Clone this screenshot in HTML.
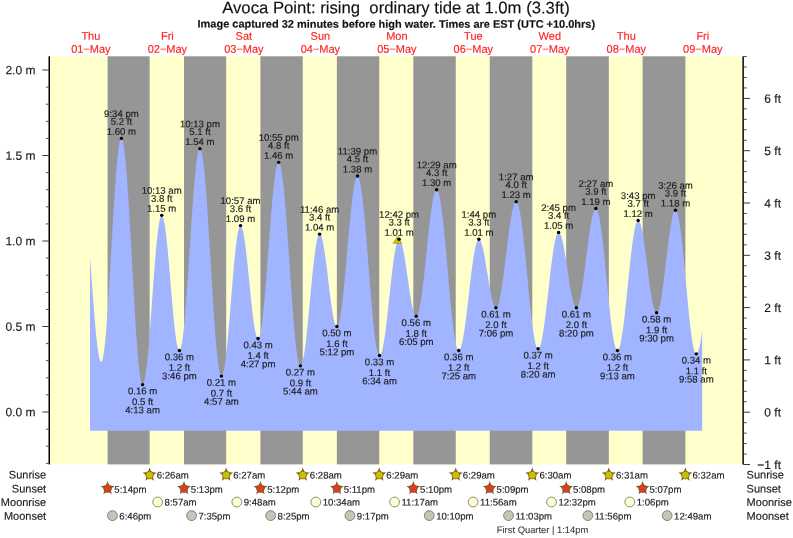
<!DOCTYPE html>
<html lang="en"><head><meta charset="utf-8"><title>Avoca Point tide times</title>
<style>
html,body{margin:0;padding:0;background:#fff;}
body{width:793px;height:538px;overflow:hidden;}
svg{display:block;font-family:"Liberation Sans",Arial,Helvetica,sans-serif;}
text{stroke-width:0.15px;paint-order:stroke;text-rendering:geometricPrecision;}
.al,.ar,.tl,.rl,.rt{stroke:#1a1a1a;}
.t,.s{stroke:#111;stroke-width:0.15px;}
.d{stroke:#ff2020;}
.fq{stroke:#3a3a3a;stroke-width:0.1px;}
.t{font-size:16.7px;fill:#111;text-anchor:middle;white-space:pre;}
.s{font-size:10.97px;font-weight:bold;fill:#111;text-anchor:middle;}
.d{font-size:11px;fill:#ff2020;text-anchor:middle;}
.al{font-size:12px;fill:#1a1a1a;text-anchor:end;}
.ar{font-size:12px;fill:#1a1a1a;text-anchor:end;}
.tl{font-size:9.6px;fill:#1a1a1a;text-anchor:middle;}
.rl{font-size:11px;fill:#1a1a1a;}
.rt{font-size:9.6px;fill:#1a1a1a;}
.fq{font-size:9.4px;fill:#3a3a3a;}
</style></head><body>
<svg width="793" height="538" viewBox="0 0 793 538">
<rect width="793" height="538" fill="#fff"/>
<text class="t" transform="translate(395.95,13.30) rotate(0.03)" xml:space="preserve">Avoca Point: rising  ordinary tide at 1.0m (3.3ft)</text>
<text class="s" transform="translate(396.30,27.70) rotate(0.03)">Image captured 32 minutes before high water. Times are EST (UTC +10.0hrs)</text>
<rect x="50.0" y="56.3" width="692.30" height="408.10" fill="#ffffcc"/>
<rect x="107.57" y="56.3" width="42.07" height="408.10" fill="#969696"/>
<rect x="184.01" y="56.3" width="42.17" height="408.10" fill="#969696"/>
<rect x="260.44" y="56.3" width="42.28" height="408.10" fill="#969696"/>
<rect x="336.88" y="56.3" width="42.39" height="408.10" fill="#969696"/>
<rect x="413.31" y="56.3" width="42.44" height="408.10" fill="#969696"/>
<rect x="489.75" y="56.3" width="42.55" height="408.10" fill="#969696"/>
<rect x="566.18" y="56.3" width="42.65" height="408.10" fill="#969696"/>
<rect x="642.62" y="56.3" width="42.76" height="408.10" fill="#969696"/>
<path d="M90.00,430.80L90.00,257.04L90.44,262.86L90.87,268.76L91.31,274.71L91.75,280.68L92.19,286.64L92.62,292.56L93.06,298.40L93.50,304.14L93.94,309.75L94.37,315.20L94.81,320.46L95.25,325.51L95.68,330.31L96.12,334.85L96.56,339.10L97.00,343.04L97.43,346.65L97.87,349.92L98.31,352.81L98.75,355.33L99.18,357.45L99.62,359.17L100.06,360.47L100.49,361.36L100.93,361.82L101.37,361.85L101.81,361.38L102.24,360.39L102.68,358.90L103.12,356.90L103.56,354.40L103.99,351.42L104.43,347.98L104.87,344.08L105.31,339.75L105.74,335.01L106.18,329.87L106.62,324.36L107.05,318.51L107.49,312.34L107.93,305.89L108.37,299.17L108.80,292.23L109.24,285.10L109.68,277.81L110.12,270.38L110.55,262.86L110.99,255.29L111.43,247.69L111.86,240.10L112.30,232.56L112.74,225.10L113.18,217.75L113.61,210.56L114.05,203.55L114.49,196.75L114.93,190.20L115.36,183.93L115.80,177.96L116.24,172.33L116.67,167.06L117.11,162.17L117.55,157.69L117.99,153.64L118.42,150.03L118.86,146.89L119.30,144.23L119.74,142.05L120.17,140.37L120.61,139.21L121.05,138.55L121.48,138.41L121.92,138.79L122.36,139.69L122.80,141.09L123.23,143.00L123.67,145.41L124.11,148.31L124.55,151.68L124.98,155.52L125.42,159.80L125.86,164.50L126.29,169.62L126.73,175.12L127.17,180.98L127.61,187.18L128.04,193.69L128.48,200.49L128.92,207.55L129.36,214.83L129.79,222.31L130.23,229.95L130.67,237.72L131.10,245.60L131.54,253.54L131.98,261.51L132.42,269.49L132.85,277.43L133.29,285.31L133.73,293.08L134.17,300.72L134.60,308.20L135.04,315.48L135.48,322.54L135.92,329.34L136.35,335.85L136.79,342.05L137.23,347.91L137.66,353.42L138.10,358.53L138.54,363.24L138.98,367.52L139.41,371.35L139.85,374.72L140.29,377.62L140.73,380.03L141.16,381.95L141.60,383.35L142.04,384.25L142.47,384.63L142.91,384.51L143.35,383.96L143.79,382.97L144.22,381.56L144.66,379.73L145.10,377.48L145.54,374.83L145.97,371.80L146.41,368.40L146.85,364.65L147.28,360.56L147.72,356.16L148.16,351.47L148.60,346.51L149.03,341.31L149.47,335.90L149.91,330.31L150.35,324.56L150.78,318.68L151.22,312.71L151.66,306.67L152.09,300.59L152.53,294.51L152.97,288.47L153.41,282.48L153.84,276.58L154.28,270.80L154.72,265.17L155.16,259.72L155.59,254.48L156.03,249.48L156.47,244.73L156.90,240.27L157.34,236.12L157.78,232.30L158.22,228.83L158.65,225.72L159.09,223.00L159.53,220.67L159.97,218.76L160.40,217.26L160.84,216.19L161.28,215.55L161.71,215.35L162.15,215.57L162.59,216.19L163.03,217.22L163.46,218.64L163.90,220.45L164.34,222.64L164.78,225.19L165.21,228.09L165.65,231.32L166.09,234.86L166.53,238.69L166.96,242.78L167.40,247.12L167.84,251.67L168.27,256.41L168.71,261.31L169.15,266.34L169.59,271.48L170.02,276.68L170.46,281.91L170.90,287.16L171.34,292.37L171.77,297.53L172.21,302.61L172.65,307.56L173.08,312.36L173.52,316.99L173.96,321.41L174.40,325.60L174.83,329.53L175.27,333.18L175.71,336.53L176.15,339.55L176.58,342.24L177.02,344.56L177.46,346.51L177.89,348.08L178.33,349.26L178.77,350.03L179.21,350.41L179.64,350.36L180.08,349.87L180.52,348.93L180.96,347.55L181.39,345.73L181.83,343.49L182.27,340.82L182.70,337.74L183.14,334.27L183.58,330.43L184.02,326.22L184.45,321.67L184.89,316.79L185.33,311.62L185.77,306.17L186.20,300.47L186.64,294.54L187.08,288.41L187.51,282.10L187.95,275.65L188.39,269.09L188.83,262.43L189.26,255.72L189.70,248.98L190.14,242.25L190.58,235.54L191.01,228.90L191.45,222.35L191.89,215.93L192.32,209.65L192.76,203.55L193.20,197.66L193.64,191.99L194.07,186.59L194.51,181.47L194.95,176.65L195.39,172.15L195.82,168.00L196.26,164.22L196.70,160.81L197.14,157.81L197.57,155.21L198.01,153.03L198.45,151.28L198.88,149.98L199.32,149.11L199.76,148.70L200.20,148.74L200.63,149.24L201.07,150.21L201.51,151.63L201.95,153.51L202.38,155.84L202.82,158.60L203.26,161.79L203.69,165.39L204.13,169.38L204.57,173.76L205.01,178.50L205.44,183.58L205.88,188.99L206.32,194.70L206.76,200.68L207.19,206.92L207.63,213.39L208.07,220.05L208.50,226.89L208.94,233.88L209.38,240.98L209.82,248.17L210.25,255.41L210.69,262.69L211.13,269.96L211.57,277.20L212.00,284.39L212.44,291.48L212.88,298.45L213.31,305.28L213.75,311.93L214.19,318.37L214.63,324.59L215.06,330.55L215.50,336.23L215.94,341.61L216.38,346.67L216.81,351.38L217.25,355.73L217.69,359.69L218.12,363.25L218.56,366.40L219.00,369.13L219.44,371.42L219.87,373.26L220.31,374.64L220.75,375.57L221.19,376.03L221.62,376.04L222.06,375.65L222.50,374.87L222.93,373.72L223.37,372.18L223.81,370.28L224.25,368.02L224.68,365.41L225.12,362.47L225.56,359.21L226.00,355.66L226.43,351.81L226.87,347.71L227.31,343.36L227.75,338.80L228.18,334.04L228.62,329.10L229.06,324.03L229.49,318.83L229.93,313.54L230.37,308.18L230.81,302.79L231.24,297.38L231.68,292.00L232.12,286.66L232.56,281.39L232.99,276.22L233.43,271.18L233.87,266.30L234.30,261.59L234.74,257.08L235.18,252.80L235.62,248.77L236.05,245.01L236.49,241.53L236.93,238.36L237.37,235.51L237.80,233.00L238.24,230.84L238.68,229.05L239.11,227.62L239.55,226.57L239.99,225.90L240.43,225.62L240.86,225.71L241.30,226.16L241.74,226.94L242.18,228.06L242.61,229.52L243.05,231.30L243.49,233.39L243.92,235.77L244.36,238.44L244.80,241.38L245.24,244.57L245.67,247.99L246.11,251.62L246.55,255.43L246.99,259.41L247.42,263.53L247.86,267.76L248.30,272.08L248.73,276.45L249.17,280.87L249.61,285.29L250.05,289.69L250.48,294.04L250.92,298.32L251.36,302.50L251.80,306.56L252.23,310.46L252.67,314.19L253.11,317.72L253.54,321.04L253.98,324.11L254.42,326.93L254.86,329.47L255.29,331.71L255.73,333.66L256.17,335.28L256.61,336.58L257.04,337.55L257.48,338.17L257.92,338.45L258.36,338.38L258.79,337.91L259.23,337.06L259.67,335.82L260.10,334.20L260.54,332.21L260.98,329.85L261.42,327.14L261.85,324.10L262.29,320.72L262.73,317.03L263.17,313.05L263.60,308.79L264.04,304.27L264.48,299.50L264.91,294.53L265.35,289.35L265.79,284.00L266.23,278.51L266.66,272.89L267.10,267.16L267.54,261.37L267.98,255.52L268.41,249.66L268.85,243.79L269.29,237.96L269.72,232.18L270.16,226.48L270.60,220.89L271.04,215.43L271.47,210.12L271.91,204.99L272.35,200.07L272.79,195.37L273.22,190.91L273.66,186.72L274.10,182.81L274.53,179.20L274.97,175.90L275.41,172.94L275.85,170.32L276.28,168.06L276.72,166.16L277.16,164.64L277.60,163.50L278.03,162.74L278.47,162.38L278.91,162.40L279.34,162.84L279.78,163.67L280.22,164.91L280.66,166.55L281.09,168.57L281.53,170.98L281.97,173.75L282.41,176.89L282.84,180.38L283.28,184.20L283.72,188.35L284.15,192.79L284.59,197.52L285.03,202.52L285.47,207.76L285.90,213.23L286.34,218.90L286.78,224.75L287.22,230.75L287.65,236.90L288.09,243.15L288.53,249.48L288.97,255.87L289.40,262.30L289.84,268.73L290.28,275.14L290.71,281.51L291.15,287.81L291.59,294.02L292.03,300.10L292.46,306.04L292.90,311.82L293.34,317.40L293.78,322.77L294.21,327.90L294.65,332.78L295.09,337.39L295.52,341.70L295.96,345.70L296.40,349.38L296.84,352.71L297.27,355.70L297.71,358.31L298.15,360.55L298.59,362.40L299.02,363.86L299.46,364.92L299.90,365.58L300.33,365.83L300.77,365.70L301.21,365.24L301.65,364.44L302.08,363.31L302.52,361.87L302.96,360.10L303.40,358.03L303.83,355.66L304.27,353.01L304.71,350.09L305.14,346.92L305.58,343.50L306.02,339.86L306.46,336.02L306.89,331.99L307.33,327.81L307.77,323.47L308.21,319.02L308.64,314.48L309.08,309.85L309.52,305.18L309.95,300.48L310.39,295.78L310.83,291.10L311.27,286.47L311.70,281.91L312.14,277.43L312.58,273.08L313.02,268.86L313.45,264.79L313.89,260.91L314.33,257.23L314.76,253.77L315.20,250.54L315.64,247.56L316.08,244.85L316.51,242.43L316.95,240.29L317.39,238.47L317.83,236.95L318.26,235.76L318.70,234.89L319.14,234.36L319.58,234.16L320.01,234.28L320.45,234.69L320.89,235.38L321.32,236.36L321.76,237.62L322.20,239.14L322.64,240.93L323.07,242.96L323.51,245.22L323.95,247.71L324.39,250.40L324.82,253.28L325.26,256.33L325.70,259.53L326.13,262.87L326.57,266.31L327.01,269.84L327.45,273.43L327.88,277.07L328.32,280.73L328.76,284.39L329.20,288.02L329.63,291.61L330.07,295.12L330.51,298.54L330.94,301.85L331.38,305.02L331.82,308.03L332.26,310.87L332.69,313.52L333.13,315.96L333.57,318.17L334.01,320.15L334.44,321.88L334.88,323.34L335.32,324.54L335.75,325.45L336.19,326.09L336.63,326.43L337.07,326.48L337.50,326.21L337.94,325.60L338.38,324.67L338.82,323.40L339.25,321.81L339.69,319.91L340.13,317.70L340.56,315.19L341.00,312.40L341.44,309.33L341.88,306.01L342.31,302.44L342.75,298.64L343.19,294.63L343.63,290.43L344.06,286.05L344.50,281.52L344.94,276.85L345.37,272.07L345.81,267.19L346.25,262.25L346.69,257.25L347.12,252.23L347.56,247.21L348.00,242.20L348.44,237.23L348.87,232.32L349.31,227.50L349.75,222.79L350.19,218.20L350.62,213.76L351.06,209.49L351.50,205.40L351.93,201.52L352.37,197.86L352.81,194.44L353.25,191.28L353.68,188.38L354.12,185.76L354.56,183.43L355.00,181.41L355.43,179.70L355.87,178.31L356.31,177.24L356.74,176.50L357.18,176.10L357.62,176.04L358.06,176.32L358.49,176.94L358.93,177.91L359.37,179.23L359.81,180.88L360.24,182.86L360.68,185.16L361.12,187.77L361.55,190.69L361.99,193.90L362.43,197.39L362.87,201.14L363.30,205.14L363.74,209.38L364.18,213.84L364.62,218.50L365.05,223.35L365.49,228.36L365.93,233.51L366.36,238.79L366.80,244.18L367.24,249.65L367.68,255.18L368.11,260.75L368.55,266.34L368.99,271.93L369.43,277.50L369.86,283.02L370.30,288.47L370.74,293.84L371.17,299.10L371.61,304.22L372.05,309.20L372.49,314.01L372.92,318.63L373.36,323.05L373.80,327.25L374.24,331.20L374.67,334.91L375.11,338.34L375.55,341.49L375.98,344.35L376.42,346.91L376.86,349.15L377.30,351.06L377.73,352.65L378.17,353.89L378.61,354.80L379.05,355.36L379.48,355.57L379.92,355.46L380.36,355.06L380.80,354.37L381.23,353.41L381.67,352.17L382.11,350.65L382.54,348.88L382.98,346.85L383.42,344.58L383.86,342.07L384.29,339.35L384.73,336.42L385.17,333.29L385.61,329.99L386.04,326.53L386.48,322.92L386.92,319.19L387.35,315.35L387.79,311.42L388.23,307.42L388.67,303.37L389.10,299.30L389.54,295.21L389.98,291.14L390.42,287.10L390.85,283.10L391.29,279.18L391.73,275.35L392.16,271.63L392.60,268.03L393.04,264.58L393.48,261.30L393.91,258.19L394.35,255.27L394.79,252.56L395.23,250.08L395.66,247.83L396.10,245.82L396.54,244.07L396.97,242.58L397.41,241.36L397.85,240.42L398.29,239.76L398.72,239.38L399.16,239.29L399.60,239.47L400.04,239.88L400.47,240.54L400.91,241.44L401.35,242.57L401.78,243.92L402.22,245.50L402.66,247.28L403.10,249.25L403.53,251.41L403.97,253.73L404.41,256.21L404.85,258.83L405.28,261.57L405.72,264.42L406.16,267.35L406.59,270.34L407.03,273.38L407.47,276.46L407.91,279.54L408.34,282.60L408.78,285.64L409.22,288.63L409.66,291.55L410.09,294.38L410.53,297.10L410.97,299.70L411.41,302.16L411.84,304.46L412.28,306.59L412.72,308.53L413.15,310.28L413.59,311.82L414.03,313.15L414.47,314.24L414.90,315.10L415.34,315.73L415.78,316.11L416.22,316.24L416.65,316.11L417.09,315.69L417.53,314.99L417.96,314.01L418.40,312.75L418.84,311.21L419.28,309.42L419.71,307.37L420.15,305.07L420.59,302.54L421.03,299.78L421.46,296.81L421.90,293.64L422.34,290.28L422.77,286.76L423.21,283.08L423.65,279.27L424.09,275.33L424.52,271.30L424.96,267.18L425.40,263.00L425.84,258.78L426.27,254.52L426.71,250.26L427.15,246.01L427.58,241.80L428.02,237.63L428.46,233.53L428.90,229.53L429.33,225.62L429.77,221.85L430.21,218.21L430.65,214.73L431.08,211.42L431.52,208.31L431.96,205.39L432.39,202.69L432.83,200.22L433.27,197.99L433.71,196.01L434.14,194.28L434.58,192.83L435.02,191.64L435.46,190.73L435.89,190.11L436.33,189.77L436.77,189.72L437.20,189.97L437.64,190.53L438.08,191.40L438.52,192.57L438.95,194.05L439.39,195.81L439.83,197.87L440.27,200.20L440.70,202.80L441.14,205.66L441.58,208.78L442.01,212.12L442.45,215.70L442.89,219.48L443.33,223.46L443.76,227.61L444.20,231.94L444.64,236.41L445.08,241.00L445.51,245.72L445.95,250.52L446.39,255.40L446.83,260.34L447.26,265.32L447.70,270.31L448.14,275.30L448.57,280.28L449.01,285.21L449.45,290.08L449.89,294.88L450.32,299.58L450.76,304.17L451.20,308.63L451.64,312.93L452.07,317.08L452.51,321.03L452.95,324.80L453.38,328.35L453.82,331.67L454.26,334.76L454.70,337.60L455.13,340.18L455.57,342.48L456.01,344.51L456.45,346.25L456.88,347.69L457.32,348.84L457.76,349.68L458.19,350.21L458.63,350.43L459.07,350.36L459.51,350.03L459.94,349.44L460.38,348.60L460.82,347.51L461.26,346.17L461.69,344.59L462.13,342.78L462.57,340.75L463.00,338.51L463.44,336.06L463.88,333.42L464.32,330.60L464.75,327.62L465.19,324.48L465.63,321.20L466.07,317.81L466.50,314.30L466.94,310.71L467.38,307.04L467.81,303.31L468.25,299.55L468.69,295.76L469.13,291.97L469.56,288.19L470.00,284.44L470.44,280.75L470.88,277.11L471.31,273.56L471.75,270.11L472.19,266.78L472.63,263.57L473.06,260.51L473.50,257.62L473.94,254.89L474.37,252.35L474.81,250.01L475.25,247.88L475.69,245.96L476.12,244.28L476.56,242.82L477.00,241.62L477.44,240.65L477.87,239.95L478.31,239.49L478.75,239.30L479.18,239.35L479.62,239.63L480.06,240.12L480.50,240.83L480.93,241.74L481.37,242.87L481.81,244.19L482.25,245.70L482.68,247.39L483.12,249.24L483.56,251.26L483.99,253.41L484.43,255.70L484.87,258.10L485.31,260.60L485.74,263.18L486.18,265.83L486.62,268.53L487.06,271.26L487.49,274.01L487.93,276.75L488.37,279.47L488.80,282.16L489.24,284.78L489.68,287.34L490.12,289.80L490.55,292.16L490.99,294.40L491.43,296.50L491.87,298.46L492.30,300.25L492.74,301.88L493.18,303.31L493.61,304.56L494.05,305.61L494.49,306.45L494.93,307.07L495.36,307.48L495.80,307.68L496.24,307.64L496.68,307.36L497.11,306.85L497.55,306.09L497.99,305.09L498.42,303.86L498.86,302.41L499.30,300.73L499.74,298.85L500.17,296.75L500.61,294.47L501.05,292.00L501.49,289.36L501.92,286.56L502.36,283.62L502.80,280.54L503.24,277.34L503.67,274.04L504.11,270.65L504.55,267.18L504.98,263.66L505.42,260.09L505.86,256.50L506.30,252.91L506.73,249.32L507.17,245.75L507.61,242.23L508.05,238.76L508.48,235.37L508.92,232.06L509.36,228.86L509.79,225.78L510.23,222.84L510.67,220.03L511.11,217.39L511.54,214.92L511.98,212.64L512.42,210.54L512.86,208.65L513.29,206.98L513.73,205.52L514.17,204.29L514.60,203.29L515.04,202.52L515.48,202.00L515.92,201.72L516.35,201.69L516.79,201.93L517.23,202.47L517.67,203.29L518.10,204.39L518.54,205.76L518.98,207.41L519.41,209.33L519.85,211.50L520.29,213.93L520.73,216.59L521.16,219.48L521.60,222.60L522.04,225.91L522.48,229.43L522.91,233.12L523.35,236.97L523.79,240.98L524.22,245.12L524.66,249.38L525.10,253.74L525.54,258.18L525.97,262.69L526.41,267.25L526.85,271.84L527.29,276.44L527.72,281.04L528.16,285.62L528.60,290.15L529.03,294.63L529.47,299.03L529.91,303.33L530.35,307.53L530.78,311.60L531.22,315.53L531.66,319.30L532.10,322.89L532.53,326.30L532.97,329.51L533.41,332.51L533.85,335.28L534.28,337.81L534.72,340.10L535.16,342.14L535.59,343.91L536.03,345.41L536.47,346.64L536.91,347.59L537.34,348.26L537.78,348.63L538.22,348.73L538.66,348.55L539.09,348.10L539.53,347.40L539.97,346.45L540.40,345.24L540.84,343.78L541.28,342.09L541.72,340.16L542.15,338.01L542.59,335.64L543.03,333.07L543.47,330.31L543.90,327.37L544.34,324.27L544.78,321.01L545.21,317.61L545.65,314.10L546.09,310.48L546.53,306.76L546.96,302.98L547.40,299.14L547.84,295.26L548.28,291.36L548.71,287.45L549.15,283.56L549.59,279.70L550.02,275.90L550.46,272.15L550.90,268.49L551.34,264.93L551.77,261.49L552.21,258.18L552.65,255.01L553.09,252.00L553.52,249.17L553.96,246.52L554.40,244.08L554.83,241.84L555.27,239.82L555.71,238.04L556.15,236.49L556.58,235.18L557.02,234.12L557.46,233.32L557.90,232.78L558.33,232.49L558.77,232.47L559.21,232.68L559.64,233.11L560.08,233.75L560.52,234.62L560.96,235.70L561.39,236.98L561.83,238.46L562.27,240.12L562.71,241.97L563.14,243.98L563.58,246.15L564.02,248.46L564.46,250.90L564.89,253.45L565.33,256.11L565.77,258.84L566.20,261.65L566.64,264.50L567.08,267.39L567.52,270.29L567.95,273.19L568.39,276.07L568.83,278.92L569.27,281.71L569.70,284.44L570.14,287.07L570.58,289.61L571.01,292.03L571.45,294.32L571.89,296.47L572.33,298.46L572.76,300.28L573.20,301.92L573.64,303.37L574.08,304.62L574.51,305.66L574.95,306.50L575.39,307.11L575.82,307.51L576.26,307.68L576.70,307.62L577.14,307.32L577.57,306.78L578.01,305.99L578.45,304.96L578.89,303.70L579.32,302.22L579.76,300.51L580.20,298.60L580.63,296.48L581.07,294.18L581.51,291.69L581.95,289.04L582.38,286.24L582.82,283.29L583.26,280.22L583.70,277.04L584.13,273.77L584.57,270.41L585.01,267.00L585.44,263.54L585.88,260.06L586.32,256.57L586.76,253.08L587.19,249.62L587.63,246.20L588.07,242.84L588.51,239.55L588.94,236.36L589.38,233.28L589.82,230.32L590.25,227.49L590.69,224.82L591.13,222.31L591.57,219.99L592.00,217.85L592.44,215.91L592.88,214.18L593.32,212.67L593.75,211.38L594.19,210.32L594.63,209.51L595.07,208.93L595.50,208.60L595.94,208.51L596.38,208.70L596.81,209.17L597.25,209.93L597.69,210.97L598.13,212.29L598.56,213.89L599.00,215.74L599.44,217.86L599.88,220.23L600.31,222.83L600.75,225.67L601.19,228.72L601.62,231.99L602.06,235.44L602.50,239.07L602.94,242.87L603.37,246.81L603.81,250.89L604.25,255.08L604.69,259.37L605.12,263.75L605.56,268.18L606.00,272.67L606.43,277.18L606.87,281.70L607.31,286.21L607.75,290.69L608.18,295.13L608.62,299.50L609.06,303.80L609.50,307.99L609.93,312.07L610.37,316.02L610.81,319.82L611.24,323.45L611.68,326.91L612.12,330.17L612.56,333.23L612.99,336.07L613.43,338.68L613.87,341.05L614.31,343.17L614.74,345.03L615.18,346.63L615.62,347.95L616.05,349.00L616.49,349.77L616.93,350.24L617.37,350.44L617.80,350.34L618.24,349.96L618.68,349.30L619.12,348.35L619.55,347.13L619.99,345.64L620.43,343.88L620.86,341.87L621.30,339.61L621.74,337.11L622.18,334.38L622.61,331.44L623.05,328.29L623.49,324.96L623.93,321.46L624.36,317.79L624.80,313.99L625.24,310.05L625.68,306.01L626.11,301.88L626.55,297.68L626.99,293.43L627.42,289.13L627.86,284.83L628.30,280.52L628.74,276.24L629.17,272.00L629.61,267.82L630.05,263.71L630.49,259.70L630.92,255.80L631.36,252.04L631.80,248.42L632.23,244.96L632.67,241.68L633.11,238.60L633.55,235.72L633.98,233.06L634.42,230.62L634.86,228.43L635.30,226.50L635.73,224.82L636.17,223.40L636.61,222.26L637.04,221.40L637.48,220.82L637.92,220.52L638.36,220.51L638.79,220.75L639.23,221.25L639.67,222.01L640.11,223.01L640.54,224.25L640.98,225.73L641.42,227.44L641.85,229.36L642.29,231.49L642.73,233.82L643.17,236.32L643.60,239.00L644.04,241.83L644.48,244.80L644.92,247.89L645.35,251.08L645.79,254.36L646.23,257.71L646.66,261.11L647.10,264.54L647.54,267.98L647.98,271.41L648.41,274.82L648.85,278.18L649.29,281.47L649.73,284.69L650.16,287.80L650.60,290.80L651.04,293.66L651.47,296.38L651.91,298.93L652.35,301.29L652.79,303.47L653.22,305.44L653.66,307.20L654.10,308.73L654.54,310.03L654.97,311.09L655.41,311.90L655.85,312.45L656.29,312.76L656.72,312.81L657.16,312.59L657.60,312.10L658.03,311.34L658.47,310.33L658.91,309.05L659.35,307.52L659.78,305.75L660.22,303.75L660.66,301.53L661.10,299.09L661.53,296.45L661.97,293.63L662.41,290.65L662.84,287.50L663.28,284.23L663.72,280.83L664.16,277.33L664.59,273.74L665.03,270.09L665.47,266.40L665.91,262.68L666.34,258.95L666.78,255.24L667.22,251.56L667.65,247.94L668.09,244.38L668.53,240.92L668.97,237.56L669.40,234.33L669.84,231.24L670.28,228.32L670.72,225.57L671.15,223.01L671.59,220.65L672.03,218.51L672.46,216.59L672.90,214.91L673.34,213.48L673.78,212.30L674.21,211.38L674.65,210.72L675.09,210.34L675.53,210.22L675.96,210.40L676.40,210.89L676.84,211.69L677.27,212.79L677.71,214.20L678.15,215.90L678.59,217.89L679.02,220.16L679.46,222.69L679.90,225.49L680.34,228.53L680.77,231.81L681.21,235.30L681.65,239.00L682.08,242.88L682.52,246.94L682.96,251.14L683.40,255.48L683.83,259.94L684.27,264.50L684.71,269.13L685.15,273.81L685.58,278.53L686.02,283.27L686.46,288.00L686.90,292.71L687.33,297.37L687.77,301.96L688.21,306.47L688.64,310.87L689.08,315.14L689.52,319.27L689.96,323.24L690.39,327.03L690.83,330.62L691.27,334.00L691.71,337.16L692.14,340.07L692.58,342.74L693.02,345.14L693.45,347.26L693.89,349.10L694.33,350.65L694.77,351.90L695.20,352.85L695.64,353.49L696.08,353.81L696.52,353.83L696.95,353.57L697.39,353.04L697.83,352.23L698.26,351.16L698.70,349.83L699.14,348.24L699.58,346.40L700.01,344.32L700.45,342.01L700.89,339.47L701.33,336.73L701.76,333.78L702.20,330.65L702.20,430.80Z" fill="#a0b4ff"/>
<text class="d" transform="translate(90.89,39.70) rotate(0.03)">Thu</text><text class="d" transform="translate(90.89,52.80) rotate(0.03)">01−May</text>
<text class="d" transform="translate(167.38,39.70) rotate(0.03)">Fri</text><text class="d" transform="translate(167.38,52.80) rotate(0.03)">02−May</text>
<text class="d" transform="translate(243.87,39.70) rotate(0.03)">Sat</text><text class="d" transform="translate(243.87,52.80) rotate(0.03)">03−May</text>
<text class="d" transform="translate(320.36,39.70) rotate(0.03)">Sun</text><text class="d" transform="translate(320.36,52.80) rotate(0.03)">04−May</text>
<text class="d" transform="translate(396.85,39.70) rotate(0.03)">Mon</text><text class="d" transform="translate(396.85,52.80) rotate(0.03)">05−May</text>
<text class="d" transform="translate(473.33,39.70) rotate(0.03)">Tue</text><text class="d" transform="translate(473.33,52.80) rotate(0.03)">06−May</text>
<text class="d" transform="translate(549.82,39.70) rotate(0.03)">Wed</text><text class="d" transform="translate(549.82,52.80) rotate(0.03)">07−May</text>
<text class="d" transform="translate(626.31,39.70) rotate(0.03)">Thu</text><text class="d" transform="translate(626.31,52.80) rotate(0.03)">08−May</text>
<text class="d" transform="translate(702.80,39.70) rotate(0.03)">Fri</text><text class="d" transform="translate(702.80,52.80) rotate(0.03)">09−May</text>
<rect x="48.5" y="56.3" width="1.5" height="408.10" fill="#000"/>
<rect x="742.3" y="56.3" width="1.7" height="408.10" fill="#222"/>
<rect x="45.9" y="462.80" width="3" height="1" fill="#505050"/>
<rect x="45.9" y="445.70" width="3" height="1" fill="#505050"/>
<rect x="45.9" y="428.60" width="3" height="1" fill="#505050"/>
<rect x="42.4" y="411.50" width="6.6" height="1" fill="#3a3a3a"/><text class="al" transform="translate(35.40,416.30) rotate(0.03)">0.0 m</text>
<rect x="45.9" y="394.40" width="3" height="1" fill="#505050"/>
<rect x="45.9" y="377.30" width="3" height="1" fill="#505050"/>
<rect x="45.9" y="360.20" width="3" height="1" fill="#505050"/>
<rect x="45.9" y="343.10" width="3" height="1" fill="#505050"/>
<rect x="42.4" y="326.00" width="6.6" height="1" fill="#3a3a3a"/><text class="al" transform="translate(35.40,330.80) rotate(0.03)">0.5 m</text>
<rect x="45.9" y="308.90" width="3" height="1" fill="#505050"/>
<rect x="45.9" y="291.80" width="3" height="1" fill="#505050"/>
<rect x="45.9" y="274.70" width="3" height="1" fill="#505050"/>
<rect x="45.9" y="257.60" width="3" height="1" fill="#505050"/>
<rect x="42.4" y="240.50" width="6.6" height="1" fill="#3a3a3a"/><text class="al" transform="translate(35.40,245.30) rotate(0.03)">1.0 m</text>
<rect x="45.9" y="223.40" width="3" height="1" fill="#505050"/>
<rect x="45.9" y="206.30" width="3" height="1" fill="#505050"/>
<rect x="45.9" y="189.20" width="3" height="1" fill="#505050"/>
<rect x="45.9" y="172.10" width="3" height="1" fill="#505050"/>
<rect x="42.4" y="155.00" width="6.6" height="1" fill="#3a3a3a"/><text class="al" transform="translate(35.40,159.80) rotate(0.03)">1.5 m</text>
<rect x="45.9" y="137.90" width="3" height="1" fill="#505050"/>
<rect x="45.9" y="120.80" width="3" height="1" fill="#505050"/>
<rect x="45.9" y="103.70" width="3" height="1" fill="#505050"/>
<rect x="45.9" y="86.60" width="3" height="1" fill="#505050"/>
<rect x="42.4" y="69.50" width="6.6" height="1" fill="#3a3a3a"/><text class="al" transform="translate(35.40,74.30) rotate(0.03)">2.0 m</text>
<rect x="743.3" y="464.00" width="6.7" height="1" fill="#3a3a3a"/><text class="ar" transform="translate(781.00,468.90) rotate(0.03)">−1 ft</text>
<rect x="743.3" y="453.54" width="3.5" height="1" fill="#505050"/>
<rect x="743.3" y="443.08" width="3.5" height="1" fill="#505050"/>
<rect x="743.3" y="432.62" width="3.5" height="1" fill="#505050"/>
<rect x="743.3" y="422.16" width="3.5" height="1" fill="#505050"/>
<rect x="743.3" y="411.70" width="6.7" height="1" fill="#3a3a3a"/><text class="ar" transform="translate(781.00,416.60) rotate(0.03)">0 ft</text>
<rect x="743.3" y="401.24" width="3.5" height="1" fill="#505050"/>
<rect x="743.3" y="390.78" width="3.5" height="1" fill="#505050"/>
<rect x="743.3" y="380.32" width="3.5" height="1" fill="#505050"/>
<rect x="743.3" y="369.86" width="3.5" height="1" fill="#505050"/>
<rect x="743.3" y="359.40" width="6.7" height="1" fill="#3a3a3a"/><text class="ar" transform="translate(781.00,364.30) rotate(0.03)">1 ft</text>
<rect x="743.3" y="348.94" width="3.5" height="1" fill="#505050"/>
<rect x="743.3" y="338.48" width="3.5" height="1" fill="#505050"/>
<rect x="743.3" y="328.02" width="3.5" height="1" fill="#505050"/>
<rect x="743.3" y="317.56" width="3.5" height="1" fill="#505050"/>
<rect x="743.3" y="307.10" width="6.7" height="1" fill="#3a3a3a"/><text class="ar" transform="translate(781.00,312.00) rotate(0.03)">2 ft</text>
<rect x="743.3" y="296.64" width="3.5" height="1" fill="#505050"/>
<rect x="743.3" y="286.18" width="3.5" height="1" fill="#505050"/>
<rect x="743.3" y="275.72" width="3.5" height="1" fill="#505050"/>
<rect x="743.3" y="265.26" width="3.5" height="1" fill="#505050"/>
<rect x="743.3" y="254.80" width="6.7" height="1" fill="#3a3a3a"/><text class="ar" transform="translate(781.00,259.70) rotate(0.03)">3 ft</text>
<rect x="743.3" y="244.34" width="3.5" height="1" fill="#505050"/>
<rect x="743.3" y="233.88" width="3.5" height="1" fill="#505050"/>
<rect x="743.3" y="223.42" width="3.5" height="1" fill="#505050"/>
<rect x="743.3" y="212.96" width="3.5" height="1" fill="#505050"/>
<rect x="743.3" y="202.50" width="6.7" height="1" fill="#3a3a3a"/><text class="ar" transform="translate(781.00,207.40) rotate(0.03)">4 ft</text>
<rect x="743.3" y="192.04" width="3.5" height="1" fill="#505050"/>
<rect x="743.3" y="181.58" width="3.5" height="1" fill="#505050"/>
<rect x="743.3" y="171.12" width="3.5" height="1" fill="#505050"/>
<rect x="743.3" y="160.66" width="3.5" height="1" fill="#505050"/>
<rect x="743.3" y="150.20" width="6.7" height="1" fill="#3a3a3a"/><text class="ar" transform="translate(781.00,155.10) rotate(0.03)">5 ft</text>
<rect x="743.3" y="139.74" width="3.5" height="1" fill="#505050"/>
<rect x="743.3" y="129.28" width="3.5" height="1" fill="#505050"/>
<rect x="743.3" y="118.82" width="3.5" height="1" fill="#505050"/>
<rect x="743.3" y="108.36" width="3.5" height="1" fill="#505050"/>
<rect x="743.3" y="97.90" width="6.7" height="1" fill="#3a3a3a"/><text class="ar" transform="translate(781.00,102.80) rotate(0.03)">6 ft</text>
<rect x="743.3" y="87.44" width="3.5" height="1" fill="#505050"/>
<rect x="743.3" y="76.98" width="3.5" height="1" fill="#505050"/>
<rect x="743.3" y="66.52" width="3.5" height="1" fill="#505050"/>
<rect x="743.3" y="56.06" width="3.5" height="1" fill="#505050"/>
<path d="M392.8,243.5 L402,243.5 L397.4,236Z" fill="#c8c000" stroke="#a08a10" stroke-width="0.4"/>
<circle cx="121.38" cy="138.40" r="1.7" fill="#000"/><text class="tl" transform="translate(121.38,116.90) rotate(0.03)">9:34 pm</text><text class="tl" transform="translate(121.38,124.70) rotate(0.03)">5.2 ft</text><text class="tl" transform="translate(121.38,134.80) rotate(0.03)">1.60 m</text>
<circle cx="142.58" cy="384.64" r="1.7" fill="#000"/><text class="tl" transform="translate(142.58,394.34) rotate(0.03)">0.16 m</text><text class="tl" transform="translate(142.58,405.04) rotate(0.03)">0.5 ft</text><text class="tl" transform="translate(142.58,413.34) rotate(0.03)">4:13 am</text>
<circle cx="161.70" cy="215.35" r="1.7" fill="#000"/><text class="tl" transform="translate(161.70,193.85) rotate(0.03)">10:13 am</text><text class="tl" transform="translate(161.70,201.65) rotate(0.03)">3.8 ft</text><text class="tl" transform="translate(161.70,211.75) rotate(0.03)">1.15 m</text>
<circle cx="179.39" cy="350.44" r="1.7" fill="#000"/><text class="tl" transform="translate(179.39,360.14) rotate(0.03)">0.36 m</text><text class="tl" transform="translate(179.39,370.84) rotate(0.03)">1.2 ft</text><text class="tl" transform="translate(179.39,379.14) rotate(0.03)">3:46 pm</text>
<circle cx="199.94" cy="148.66" r="1.7" fill="#000"/><text class="tl" transform="translate(199.94,127.16) rotate(0.03)">10:13 pm</text><text class="tl" transform="translate(199.94,134.96) rotate(0.03)">5.1 ft</text><text class="tl" transform="translate(199.94,145.06) rotate(0.03)">1.54 m</text>
<circle cx="221.40" cy="376.09" r="1.7" fill="#000"/><text class="tl" transform="translate(221.40,385.79) rotate(0.03)">0.21 m</text><text class="tl" transform="translate(221.40,396.49) rotate(0.03)">0.7 ft</text><text class="tl" transform="translate(221.40,404.79) rotate(0.03)">4:57 am</text>
<circle cx="240.52" cy="225.61" r="1.7" fill="#000"/><text class="tl" transform="translate(240.52,204.11) rotate(0.03)">10:57 am</text><text class="tl" transform="translate(240.52,211.91) rotate(0.03)">3.6 ft</text><text class="tl" transform="translate(240.52,222.01) rotate(0.03)">1.09 m</text>
<circle cx="258.05" cy="338.47" r="1.7" fill="#000"/><text class="tl" transform="translate(258.05,348.17) rotate(0.03)">0.43 m</text><text class="tl" transform="translate(258.05,358.87) rotate(0.03)">1.4 ft</text><text class="tl" transform="translate(258.05,367.17) rotate(0.03)">4:27 pm</text>
<circle cx="278.66" cy="162.34" r="1.7" fill="#000"/><text class="tl" transform="translate(278.66,140.84) rotate(0.03)">10:55 pm</text><text class="tl" transform="translate(278.66,148.64) rotate(0.03)">4.8 ft</text><text class="tl" transform="translate(278.66,158.74) rotate(0.03)">1.46 m</text>
<circle cx="300.39" cy="365.83" r="1.7" fill="#000"/><text class="tl" transform="translate(300.39,375.53) rotate(0.03)">0.27 m</text><text class="tl" transform="translate(300.39,386.23) rotate(0.03)">0.9 ft</text><text class="tl" transform="translate(300.39,394.53) rotate(0.03)">5:44 am</text>
<circle cx="319.61" cy="234.16" r="1.7" fill="#000"/><text class="tl" transform="translate(319.61,212.66) rotate(0.03)">11:46 am</text><text class="tl" transform="translate(319.61,220.46) rotate(0.03)">3.4 ft</text><text class="tl" transform="translate(319.61,230.56) rotate(0.03)">1.04 m</text>
<circle cx="336.93" cy="326.50" r="1.7" fill="#000"/><text class="tl" transform="translate(336.93,336.20) rotate(0.03)">0.50 m</text><text class="tl" transform="translate(336.93,346.90) rotate(0.03)">1.6 ft</text><text class="tl" transform="translate(336.93,355.20) rotate(0.03)">5:12 pm</text>
<circle cx="357.49" cy="176.02" r="1.7" fill="#000"/><text class="tl" transform="translate(357.49,154.52) rotate(0.03)">11:39 pm</text><text class="tl" transform="translate(357.49,162.32) rotate(0.03)">4.5 ft</text><text class="tl" transform="translate(357.49,172.42) rotate(0.03)">1.38 m</text>
<circle cx="379.53" cy="355.57" r="1.7" fill="#000"/><text class="tl" transform="translate(379.53,365.27) rotate(0.03)">0.33 m</text><text class="tl" transform="translate(379.53,375.97) rotate(0.03)">1.1 ft</text><text class="tl" transform="translate(379.53,384.27) rotate(0.03)">6:34 am</text>
<circle cx="399.08" cy="239.29" r="1.7" fill="#000"/><text class="tl" transform="translate(399.08,217.79) rotate(0.03)">12:42 pm</text><text class="tl" transform="translate(399.08,225.59) rotate(0.03)">3.3 ft</text><text class="tl" transform="translate(399.08,235.69) rotate(0.03)">1.01 m</text>
<circle cx="416.23" cy="316.24" r="1.7" fill="#000"/><text class="tl" transform="translate(416.23,325.94) rotate(0.03)">0.56 m</text><text class="tl" transform="translate(416.23,336.64) rotate(0.03)">1.8 ft</text><text class="tl" transform="translate(416.23,344.94) rotate(0.03)">6:05 pm</text>
<circle cx="436.63" cy="189.70" r="1.7" fill="#000"/><text class="tl" transform="translate(436.63,168.20) rotate(0.03)">12:29 am</text><text class="tl" transform="translate(436.63,176.00) rotate(0.03)">4.3 ft</text><text class="tl" transform="translate(436.63,186.10) rotate(0.03)">1.30 m</text>
<circle cx="458.73" cy="350.44" r="1.7" fill="#000"/><text class="tl" transform="translate(458.73,360.14) rotate(0.03)">0.36 m</text><text class="tl" transform="translate(458.73,370.84) rotate(0.03)">1.2 ft</text><text class="tl" transform="translate(458.73,379.14) rotate(0.03)">7:25 am</text>
<circle cx="478.86" cy="239.29" r="1.7" fill="#000"/><text class="tl" transform="translate(478.86,217.79) rotate(0.03)">1:44 pm</text><text class="tl" transform="translate(478.86,225.59) rotate(0.03)">3.3 ft</text><text class="tl" transform="translate(478.86,235.69) rotate(0.03)">1.01 m</text>
<circle cx="495.96" cy="307.69" r="1.7" fill="#000"/><text class="tl" transform="translate(495.96,317.39) rotate(0.03)">0.61 m</text><text class="tl" transform="translate(495.96,328.09) rotate(0.03)">2.0 ft</text><text class="tl" transform="translate(495.96,336.39) rotate(0.03)">7:06 pm</text>
<circle cx="516.20" cy="201.67" r="1.7" fill="#000"/><text class="tl" transform="translate(516.20,180.17) rotate(0.03)">1:27 am</text><text class="tl" transform="translate(516.20,187.97) rotate(0.03)">4.0 ft</text><text class="tl" transform="translate(516.20,198.07) rotate(0.03)">1.23 m</text>
<circle cx="538.14" cy="348.73" r="1.7" fill="#000"/><text class="tl" transform="translate(538.14,358.43) rotate(0.03)">0.37 m</text><text class="tl" transform="translate(538.14,369.13) rotate(0.03)">1.2 ft</text><text class="tl" transform="translate(538.14,377.43) rotate(0.03)">8:20 am</text>
<circle cx="558.59" cy="232.45" r="1.7" fill="#000"/><text class="tl" transform="translate(558.59,210.95) rotate(0.03)">2:45 pm</text><text class="tl" transform="translate(558.59,218.75) rotate(0.03)">3.4 ft</text><text class="tl" transform="translate(558.59,228.85) rotate(0.03)">1.05 m</text>
<circle cx="576.38" cy="307.69" r="1.7" fill="#000"/><text class="tl" transform="translate(576.38,317.39) rotate(0.03)">0.61 m</text><text class="tl" transform="translate(576.38,328.09) rotate(0.03)">2.0 ft</text><text class="tl" transform="translate(576.38,336.39) rotate(0.03)">8:20 pm</text>
<circle cx="595.87" cy="208.51" r="1.7" fill="#000"/><text class="tl" transform="translate(595.87,187.01) rotate(0.03)">2:27 am</text><text class="tl" transform="translate(595.87,194.81) rotate(0.03)">3.9 ft</text><text class="tl" transform="translate(595.87,204.91) rotate(0.03)">1.19 m</text>
<circle cx="617.44" cy="350.44" r="1.7" fill="#000"/><text class="tl" transform="translate(617.44,360.14) rotate(0.03)">0.36 m</text><text class="tl" transform="translate(617.44,370.84) rotate(0.03)">1.2 ft</text><text class="tl" transform="translate(617.44,379.14) rotate(0.03)">9:13 am</text>
<circle cx="638.16" cy="220.48" r="1.7" fill="#000"/><text class="tl" transform="translate(638.16,198.98) rotate(0.03)">3:43 pm</text><text class="tl" transform="translate(638.16,206.78) rotate(0.03)">3.7 ft</text><text class="tl" transform="translate(638.16,216.88) rotate(0.03)">1.12 m</text>
<circle cx="656.59" cy="312.82" r="1.7" fill="#000"/><text class="tl" transform="translate(656.59,322.52) rotate(0.03)">0.58 m</text><text class="tl" transform="translate(656.59,333.22) rotate(0.03)">1.9 ft</text><text class="tl" transform="translate(656.59,341.52) rotate(0.03)">9:30 pm</text>
<circle cx="675.50" cy="210.22" r="1.7" fill="#000"/><text class="tl" transform="translate(675.50,188.72) rotate(0.03)">3:26 am</text><text class="tl" transform="translate(675.50,196.52) rotate(0.03)">3.9 ft</text><text class="tl" transform="translate(675.50,206.62) rotate(0.03)">1.18 m</text>
<circle cx="696.32" cy="353.86" r="1.7" fill="#000"/><text class="tl" transform="translate(696.32,363.56) rotate(0.03)">0.34 m</text><text class="tl" transform="translate(696.32,374.26) rotate(0.03)">1.1 ft</text><text class="tl" transform="translate(696.32,382.56) rotate(0.03)">9:58 am</text>
<text class="rl" transform="translate(46.10,478.60) rotate(0.03)" text-anchor="end">Sunrise</text><text class="rl" transform="translate(746.60,478.60) rotate(0.03)">Sunrise</text>
<text class="rl" transform="translate(46.10,492.60) rotate(0.03)" text-anchor="end">Sunset</text><text class="rl" transform="translate(746.60,492.60) rotate(0.03)">Sunset</text>
<text class="rl" transform="translate(46.10,506.10) rotate(0.03)" text-anchor="end">Moonrise</text><text class="rl" transform="translate(746.60,506.10) rotate(0.03)">Moonrise</text>
<text class="rl" transform="translate(46.10,519.70) rotate(0.03)" text-anchor="end">Moonset</text><text class="rl" transform="translate(746.60,519.70) rotate(0.03)">Moonset</text>
<polygon points="107.57,481.00 109.34,485.87 114.52,486.04 110.43,489.23 111.86,494.21 107.57,491.30 103.28,494.21 104.72,489.23 100.63,486.04 105.81,485.87" fill="#7d5f14"/><circle cx="107.57" cy="488.60" r="3.9" fill="#dc3c2c" stroke="#7d5f14" stroke-width="0.7"/><text class="rt" transform="translate(114.37,492.80) rotate(0.03)">5:14pm</text>
<polygon points="149.64,467.50 151.40,472.37 156.58,472.54 152.49,475.73 153.93,480.71 149.64,477.80 145.35,480.71 146.79,475.73 142.70,472.54 147.88,472.37" fill="#7d5f14"/><circle cx="149.64" cy="475.10" r="3.9" fill="#c8c000" stroke="#7d5f14" stroke-width="0.7"/><text class="rt" transform="translate(156.74,478.50) rotate(0.03)">6:26am</text>
<polygon points="184.01,481.00 185.77,485.87 190.95,486.04 186.86,489.23 188.30,494.21 184.01,491.30 179.72,494.21 181.15,489.23 177.06,486.04 182.24,485.87" fill="#7d5f14"/><circle cx="184.01" cy="488.60" r="3.9" fill="#dc3c2c" stroke="#7d5f14" stroke-width="0.7"/><text class="rt" transform="translate(190.81,492.80) rotate(0.03)">5:13pm</text>
<polygon points="226.18,467.50 227.95,472.37 233.12,472.54 229.04,475.73 230.47,480.71 226.18,477.80 221.89,480.71 223.33,475.73 219.24,472.54 224.42,472.37" fill="#7d5f14"/><circle cx="226.18" cy="475.10" r="3.9" fill="#c8c000" stroke="#7d5f14" stroke-width="0.7"/><text class="rt" transform="translate(233.28,478.50) rotate(0.03)">6:27am</text>
<polygon points="260.44,481.00 262.21,485.87 267.39,486.04 263.30,489.23 264.73,494.21 260.44,491.30 256.15,494.21 257.59,489.23 253.50,486.04 258.68,485.87" fill="#7d5f14"/><circle cx="260.44" cy="488.60" r="3.9" fill="#dc3c2c" stroke="#7d5f14" stroke-width="0.7"/><text class="rt" transform="translate(267.24,492.80) rotate(0.03)">5:12pm</text>
<polygon points="302.72,467.50 304.49,472.37 309.67,472.54 305.58,475.73 307.01,480.71 302.72,477.80 298.43,480.71 299.87,475.73 295.78,472.54 300.96,472.37" fill="#7d5f14"/><circle cx="302.72" cy="475.10" r="3.9" fill="#c8c000" stroke="#7d5f14" stroke-width="0.7"/><text class="rt" transform="translate(309.82,478.50) rotate(0.03)">6:28am</text>
<polygon points="336.88,481.00 338.64,485.87 343.82,486.04 339.73,489.23 341.17,494.21 336.88,491.30 332.59,494.21 334.02,489.23 329.93,486.04 335.11,485.87" fill="#7d5f14"/><circle cx="336.88" cy="488.60" r="3.9" fill="#dc3c2c" stroke="#7d5f14" stroke-width="0.7"/><text class="rt" transform="translate(343.68,492.80) rotate(0.03)">5:11pm</text>
<polygon points="379.26,467.50 381.03,472.37 386.21,472.54 382.12,475.73 383.56,480.71 379.26,477.80 374.97,480.71 376.41,475.73 372.32,472.54 377.50,472.37" fill="#7d5f14"/><circle cx="379.26" cy="475.10" r="3.9" fill="#c8c000" stroke="#7d5f14" stroke-width="0.7"/><text class="rt" transform="translate(386.36,478.50) rotate(0.03)">6:29am</text>
<polygon points="413.31,481.00 415.08,485.87 420.25,486.04 416.17,489.23 417.60,494.21 413.31,491.30 409.02,494.21 410.46,489.23 406.37,486.04 411.55,485.87" fill="#7d5f14"/><circle cx="413.31" cy="488.60" r="3.9" fill="#dc3c2c" stroke="#7d5f14" stroke-width="0.7"/><text class="rt" transform="translate(420.11,492.80) rotate(0.03)">5:10pm</text>
<polygon points="455.75,467.50 457.52,472.37 462.70,472.54 458.61,475.73 460.04,480.71 455.75,477.80 451.46,480.71 452.90,475.73 448.81,472.54 453.99,472.37" fill="#7d5f14"/><circle cx="455.75" cy="475.10" r="3.9" fill="#c8c000" stroke="#7d5f14" stroke-width="0.7"/><text class="rt" transform="translate(462.85,478.50) rotate(0.03)">6:29am</text>
<polygon points="489.75,481.00 491.51,485.87 496.69,486.04 492.60,489.23 494.04,494.21 489.75,491.30 485.46,494.21 486.89,489.23 482.80,486.04 487.98,485.87" fill="#7d5f14"/><circle cx="489.75" cy="488.60" r="3.9" fill="#dc3c2c" stroke="#7d5f14" stroke-width="0.7"/><text class="rt" transform="translate(496.55,492.80) rotate(0.03)">5:09pm</text>
<polygon points="532.29,467.50 534.06,472.37 539.24,472.54 535.15,475.73 536.58,480.71 532.29,477.80 528.00,480.71 529.44,475.73 525.35,472.54 530.53,472.37" fill="#7d5f14"/><circle cx="532.29" cy="475.10" r="3.9" fill="#c8c000" stroke="#7d5f14" stroke-width="0.7"/><text class="rt" transform="translate(539.39,478.50) rotate(0.03)">6:30am</text>
<polygon points="566.18,481.00 567.95,485.87 573.12,486.04 569.04,489.23 570.47,494.21 566.18,491.30 561.89,494.21 563.33,489.23 559.24,486.04 564.42,485.87" fill="#7d5f14"/><circle cx="566.18" cy="488.60" r="3.9" fill="#dc3c2c" stroke="#7d5f14" stroke-width="0.7"/><text class="rt" transform="translate(572.98,492.80) rotate(0.03)">5:08pm</text>
<polygon points="608.83,467.50 610.60,472.37 615.78,472.54 611.69,475.73 613.13,480.71 608.83,477.80 604.54,480.71 605.98,475.73 601.89,472.54 607.07,472.37" fill="#7d5f14"/><circle cx="608.83" cy="475.10" r="3.9" fill="#c8c000" stroke="#7d5f14" stroke-width="0.7"/><text class="rt" transform="translate(615.93,478.50) rotate(0.03)">6:31am</text>
<polygon points="642.62,481.00 644.38,485.87 649.56,486.04 645.47,489.23 646.91,494.21 642.62,491.30 638.33,494.21 639.76,489.23 635.67,486.04 640.85,485.87" fill="#7d5f14"/><circle cx="642.62" cy="488.60" r="3.9" fill="#dc3c2c" stroke="#7d5f14" stroke-width="0.7"/><text class="rt" transform="translate(649.42,492.80) rotate(0.03)">5:07pm</text>
<polygon points="685.38,467.50 687.14,472.37 692.32,472.54 688.23,475.73 689.67,480.71 685.38,477.80 681.08,480.71 682.52,475.73 678.43,472.54 683.61,472.37" fill="#7d5f14"/><circle cx="685.38" cy="475.10" r="3.9" fill="#c8c000" stroke="#7d5f14" stroke-width="0.7"/><text class="rt" transform="translate(692.48,478.50) rotate(0.03)">6:32am</text>
<circle cx="157.66" cy="502" r="4.9" fill="#ffffcc" stroke="#8c8c84" stroke-width="1"/><text class="rt" transform="translate(164.56,505.60) rotate(0.03)">8:57am</text>
<circle cx="236.86" cy="502" r="4.9" fill="#ffffcc" stroke="#8c8c84" stroke-width="1"/><text class="rt" transform="translate(243.76,505.60) rotate(0.03)">9:48am</text>
<circle cx="315.79" cy="502" r="4.9" fill="#ffffcc" stroke="#8c8c84" stroke-width="1"/><text class="rt" transform="translate(322.69,505.60) rotate(0.03)">10:34am</text>
<circle cx="394.56" cy="502" r="4.9" fill="#ffffcc" stroke="#8c8c84" stroke-width="1"/><text class="rt" transform="translate(401.46,505.60) rotate(0.03)">11:17am</text>
<circle cx="473.12" cy="502" r="4.9" fill="#ffffcc" stroke="#8c8c84" stroke-width="1"/><text class="rt" transform="translate(480.02,505.60) rotate(0.03)">11:56am</text>
<circle cx="551.52" cy="502" r="4.9" fill="#ffffcc" stroke="#8c8c84" stroke-width="1"/><text class="rt" transform="translate(558.42,505.60) rotate(0.03)">12:32pm</text>
<circle cx="629.82" cy="502" r="4.9" fill="#ffffcc" stroke="#8c8c84" stroke-width="1"/><text class="rt" transform="translate(636.72,505.60) rotate(0.03)">1:06pm</text>
<circle cx="112.46" cy="515.6" r="4.9" fill="#c8c4b8" stroke="#80807a" stroke-width="1"/><text class="rt" transform="translate(119.36,519.60) rotate(0.03)">6:46pm</text>
<circle cx="191.55" cy="515.6" r="4.9" fill="#c8c4b8" stroke="#80807a" stroke-width="1"/><text class="rt" transform="translate(198.45,519.60) rotate(0.03)">7:35pm</text>
<circle cx="270.69" cy="515.6" r="4.9" fill="#c8c4b8" stroke="#80807a" stroke-width="1"/><text class="rt" transform="translate(277.59,519.60) rotate(0.03)">8:25pm</text>
<circle cx="349.94" cy="515.6" r="4.9" fill="#c8c4b8" stroke="#80807a" stroke-width="1"/><text class="rt" transform="translate(356.84,519.60) rotate(0.03)">9:17pm</text>
<circle cx="429.25" cy="515.6" r="4.9" fill="#c8c4b8" stroke="#80807a" stroke-width="1"/><text class="rt" transform="translate(436.15,519.60) rotate(0.03)">10:10pm</text>
<circle cx="508.55" cy="515.6" r="4.9" fill="#c8c4b8" stroke="#80807a" stroke-width="1"/><text class="rt" transform="translate(515.45,519.60) rotate(0.03)">11:03pm</text>
<circle cx="587.85" cy="515.6" r="4.9" fill="#c8c4b8" stroke="#80807a" stroke-width="1"/><text class="rt" transform="translate(594.75,519.60) rotate(0.03)">11:56pm</text>
<circle cx="667.16" cy="515.6" r="4.9" fill="#c8c4b8" stroke="#80807a" stroke-width="1"/><text class="rt" transform="translate(674.06,519.60) rotate(0.03)">12:49am</text>
<text class="fq" transform="translate(496.80,532.90) rotate(0.03)">First Quarter | 1:14pm</text>
</svg></body></html>
